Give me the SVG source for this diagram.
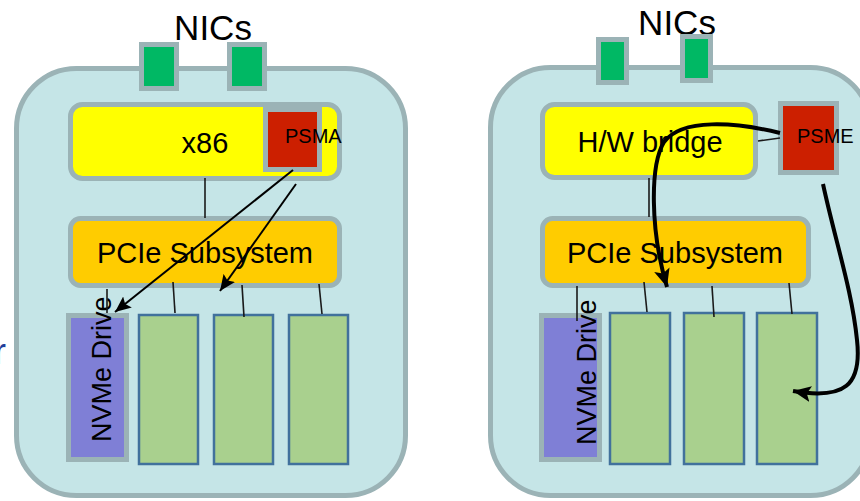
<svg xmlns="http://www.w3.org/2000/svg" width="860" height="501" viewBox="0 0 860 501">
  <defs>
    <style>
      .chassis { fill: #c5e5e7; stroke: #9bb3b6; stroke-width: 5; }
      .nic { fill: #00b864; stroke: #9bb3b6; stroke-width: 5; }
      .cpu { fill: #ffff00; stroke: #9bb3b6; stroke-width: 5; }
      .pcie { fill: #ffcc00; stroke: #9bb3b6; stroke-width: 5; }
      .mgmt { fill: #cc1f00; stroke: #9bb3b6; stroke-width: 5; }
      .nvme { fill: #7f7fd6; stroke: #9bb3b6; stroke-width: 5; }
      .slot { fill: #a9d08e; stroke: #41719c; stroke-width: 2.5; }
      .lbl { font-family: "Liberation Sans", Arial, sans-serif; fill: #000; }
      .big { font-size: 35px; }
      .mid { font-size: 29px; }
      .sm { font-size: 20px; }
      .edge-txt { font-family: "Liberation Sans", Arial, sans-serif; font-size: 36px; fill: #1f3d9a; }
      .wire { stroke: #1a1a1a; stroke-width: 1.6; fill: none; }
      .arrow { stroke: #000; stroke-width: 2; fill: none; }
      .arrow-thick { stroke: #000; stroke-width: 4; fill: none; }
    </style>
    <marker id="head" markerUnits="userSpaceOnUse" markerWidth="18" markerHeight="14" refX="16" refY="7" orient="auto">
      <path d="M0,0 L16,7 L0,14 L3,7 z" fill="#000"/>
    </marker>
    <marker id="head-thick" markerUnits="userSpaceOnUse" markerWidth="20" markerHeight="16" refX="18" refY="8" orient="auto">
      <path d="M0,0 L18,8 L0,16 L4,8 z" fill="#000"/>
    </marker>
  </defs>

  <!-- caption fragment running off the left edge -->
  <text class="edge-txt" x="-6" y="364">r</text>

  <!-- ===== Left server: x86 with PSMA ===== -->
  <g id="left-chassis">
    <rect class="chassis" x="16.5" y="68.5" width="389" height="427" rx="60"/>
  </g>
  <g id="left-nics-label">
    <text class="lbl big" x="213" y="40" text-anchor="middle">NICs</text>
  </g>
  <g id="left-nic-1"><rect class="nic" x="141.5" y="44.5" width="35" height="44"/></g>
  <g id="left-nic-2"><rect class="nic" x="229.5" y="44.5" width="35" height="44"/></g>
  <g id="left-x86">
    <rect class="cpu" x="70.5" y="104.5" width="269" height="74" rx="12"/>
    <text class="lbl mid" x="205" y="153" text-anchor="middle">x86</text>
  </g>
  <g id="left-psma">
    <rect class="mgmt" x="265.5" y="109.5" width="54" height="60"/>
    <text class="lbl sm" x="285" y="143">PSMA</text>
  </g>
  <g id="left-pcie">
    <rect class="pcie" x="70.5" y="218.5" width="269" height="67" rx="10"/>
    <text class="lbl mid" x="205" y="263" text-anchor="middle">PCIe Subsystem</text>
  </g>
  <g id="left-nvme">
    <rect class="nvme" x="68.5" y="315.5" width="58" height="144"/>
    <text class="lbl" font-size="27" transform="translate(111,442) rotate(-90)">NVMe Drive</text>
  </g>
  <g id="left-slot-1"><rect class="slot" x="139" y="315" width="59" height="149"/></g>
  <g id="left-slot-2"><rect class="slot" x="214" y="315" width="59" height="149"/></g>
  <g id="left-slot-3"><rect class="slot" x="289" y="315" width="59" height="149"/></g>

  <!-- ===== Right server: H/W bridge with PSME ===== -->
  <g id="right-chassis">
    <rect class="chassis" x="490.5" y="67.5" width="380" height="428" rx="60"/>
  </g>
  <g id="right-nics-label">
    <text class="lbl big" x="677" y="35" text-anchor="middle">NICs</text>
  </g>
  <g id="right-nic-1"><rect class="nic" x="598.5" y="39.5" width="28" height="43"/></g>
  <g id="right-nic-2"><rect class="nic" x="682.5" y="36.5" width="28" height="44"/></g>
  <g id="right-bridge">
    <rect class="cpu" x="542.5" y="104.5" width="213" height="73" rx="12"/>
    <text class="lbl mid" x="650" y="152" text-anchor="middle">H/W bridge</text>
  </g>
  <g id="right-psme">
    <rect class="mgmt" x="780.5" y="103.5" width="56" height="69"/>
    <text class="lbl sm" x="797" y="143">PSME</text>
  </g>
  <g id="right-pcie">
    <rect class="pcie" x="542.5" y="218.5" width="266" height="67" rx="10"/>
    <text class="lbl mid" x="675" y="263" text-anchor="middle">PCIe Subsystem</text>
  </g>
  <g id="right-nvme">
    <rect class="nvme" x="541.5" y="315.5" width="58" height="144"/>
    <text class="lbl" font-size="27" transform="translate(596,445) rotate(-90)">NVMe Drive</text>
  </g>
  <g id="right-slot-1"><rect class="slot" x="610" y="313" width="60" height="151"/></g>
  <g id="right-slot-2"><rect class="slot" x="684" y="313" width="60" height="151"/></g>
  <g id="right-slot-3"><rect class="slot" x="757" y="313" width="60" height="151"/></g>

  <!-- ===== Connectors ===== -->
  <g id="connectors">
    <!-- left: bus links -->
    <line class="wire" x1="205" y1="178" x2="205" y2="218"/>
    <line class="wire" x1="107" y1="289" x2="107" y2="313"/>
    <line class="wire" x1="173" y1="282" x2="175" y2="313"/>
    <line class="wire" x1="242" y1="285" x2="244" y2="317"/>
    <line class="wire" x1="319" y1="284" x2="322" y2="314"/>
    <!-- left: PSMA management paths -->
    <line class="arrow" x1="293" y1="170" x2="115" y2="312" marker-end="url(#head)"/>
    <line class="arrow" x1="296" y1="184" x2="220" y2="291" marker-end="url(#head)"/>

    <!-- right: bus links -->
    <line class="wire" x1="649" y1="178" x2="649" y2="217"/>
    <line class="wire" x1="758" y1="141" x2="780" y2="138"/>
    <line class="wire" x1="577" y1="286" x2="577" y2="321"/>
    <line class="wire" x1="644" y1="282" x2="647" y2="312"/>
    <line class="wire" x1="712" y1="286" x2="714" y2="317"/>
    <line class="wire" x1="789" y1="283" x2="792" y2="314"/>
    <!-- right: PSME management paths -->
    <path class="arrow-thick" d="M780,133 C735,122 682,118 664,142 C650,165 650,230 667,287" marker-end="url(#head-thick)"/>
    <path class="arrow-thick" d="M823,184 C835,240 852,290 857,340 C862,385 845,400 793,391" marker-end="url(#head-thick)"/>
  </g>
</svg>
